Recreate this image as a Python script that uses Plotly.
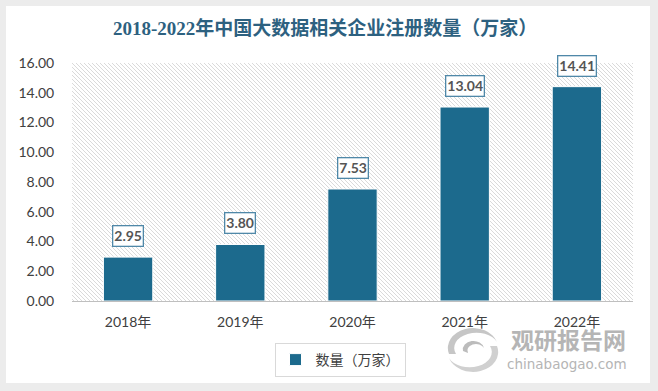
import base64
import plotly.graph_objects as go

years = ["2018年", "2019年", "2020年", "2021年", "2022年"]
counts = [2.95, 3.80, 7.53, 13.04, 14.41]
y_ticks = [0, 2, 4, 6, 8, 10, 12, 14, 16]
title = "2018-2022年中国大数据相关企业注册数量（万家）"
series_name = "数量（万家）"

W, H = 658, 391
L, R, T, B = 72, 25, 63, 90
pw, ph = W - L - R, H - T - B

def svg_uri(svg):
    return "data:image/svg+xml;base64," + base64.b64encode(svg.encode()).decode()

def px(x):
    return (x - L) / pw

def py(y):
    return (H - B - y) / ph

card_svg = (f'<svg xmlns="http://www.w3.org/2000/svg" width="{W}" height="{H}">'
            f'<rect x="0" y="0" width="{W}" height="{H}" fill="#ececec"/>'
            f'<rect x="8" y="8" width="{W-16}" height="{H-16}" fill="#e0e0e0"/>'
            f'<rect x="6" y="6" width="{W-14}" height="{H-14}" fill="#ffffff"/></svg>')
hatch_svg = (f'<svg xmlns="http://www.w3.org/2000/svg" width="{pw}" height="{ph}">'
             '<defs><pattern id="p" patternUnits="userSpaceOnUse" width="4" height="4">'
             '<path d="M-1,-1 L5,5 M-1,3 L1,5 M3,-1 L5,1" stroke="#d6d6d6" stroke-width="0.9"/>'
             '</pattern></defs>'
             f'<rect x="0" y="0" width="{pw}" height="{ph}" fill="url(#p)"/></svg>')
logo_svg = ('<svg xmlns="http://www.w3.org/2000/svg" width="60" height="50">'
            '<path d="M6,30 A24,19 0 0 1 54,18 A19,13 0 0 0 13,30 Z" fill="#c6c6c6"/>'
            '<path d="M54,22 A24,19 0 0 1 6,34 A19,13 0 0 0 47,22 Z" fill="#d0d0d0"/>'
            '<path d="M20,27 A10,8 0 0 1 41,24 A8,6 0 0 0 25,29 Z" fill="#bcbcbc"/>'
            '</svg>')

fig = go.Figure()
fig.add_trace(go.Bar(
    x=years, y=counts, name=series_name,
    marker=dict(color="#1c6a8d", line=dict(color="#ffffff", width=1)),
    width=0.44, showlegend=True,
))

for xv, yv in zip(years, counts):
    fig.add_annotation(x=xv, y=yv, text=f"<b>{yv:.2f}</b>", showarrow=False,
                       yshift=21, bgcolor="#ffffff", bordercolor="#4f88a8",
                       borderwidth=1.3, borderpad=1,
                       font=dict(family="Lato, Noto Sans CJK SC", size=14, color="#555555"))

fig.add_annotation(xref="paper", yref="paper", x=px(325), y=py(28),
                   xanchor="center", yanchor="middle", text=f"<b>{title}</b>", showarrow=False,
                   font=dict(family="Liberation Serif, Noto Sans CJK SC", size=19, color="#2d6180"))

fig.add_annotation(xref="paper", yref="paper", x=px(568), y=py(339),
                   xanchor="center", yanchor="middle", text="<b>观研报告网</b>", showarrow=False,
                   font=dict(family="Noto Sans CJK SC", size=23, color="#b5b5b5"))
fig.add_annotation(xref="paper", yref="paper", x=px(567), y=py(364),
                   xanchor="center", yanchor="middle", text="chinabaogao.com", showarrow=False,
                   font=dict(family="DejaVu Sans", size=13.5, color="#b5b5b5"))

fig.update_layout(
    width=W, height=H,
    margin=dict(l=L, r=R, t=T, b=B),
    paper_bgcolor="#ffffff", plot_bgcolor="rgba(0,0,0,0)",
    images=[
        dict(source=svg_uri(card_svg), xref="paper", yref="paper",
             x=px(0), y=py(0), sizex=W / pw, sizey=H / ph,
             xanchor="left", yanchor="top", sizing="stretch", layer="below"),
        dict(source=svg_uri(hatch_svg), xref="paper", yref="paper",
             x=0, y=1, sizex=1, sizey=1, xanchor="left", yanchor="top",
             sizing="stretch", layer="below"),
        dict(source=svg_uri(logo_svg), xref="paper", yref="paper",
             x=px(443), y=py(324), sizex=60 / pw, sizey=50 / ph,
             xanchor="left", yanchor="top", sizing="stretch", layer="above"),
    ],
    xaxis=dict(showline=True, linecolor="#bfbfbf", linewidth=1, showgrid=False,
               ticks="outside", ticklen=8, tickcolor="rgba(0,0,0,0)",
               tickfont=dict(family="Lato, Noto Sans CJK SC", size=14, color="#404040")),
    yaxis=dict(range=[0, 16], tickvals=y_ticks, tickformat=".2f", showgrid=False,
               zeroline=False, showline=False, ticks="outside", ticklen=14,
               tickcolor="rgba(0,0,0,0)",
               tickfont=dict(family="Lato, Noto Sans CJK SC", size=14, color="#404040")),
    legend=dict(orientation="h", x=px(340), xanchor="center",
                y=py(343), yanchor="top", bordercolor="#d9d9d9", borderwidth=1,
                bgcolor="#ffffff", itemwidth=30, tracegroupgap=0,
                font=dict(family="Noto Sans CJK SC", size=14, color="#404040")),
    bargap=0.56,
)

fig.write_html("out.html", config={"displayModeBar": False},
               post_script="document.body.style.margin='0';")
